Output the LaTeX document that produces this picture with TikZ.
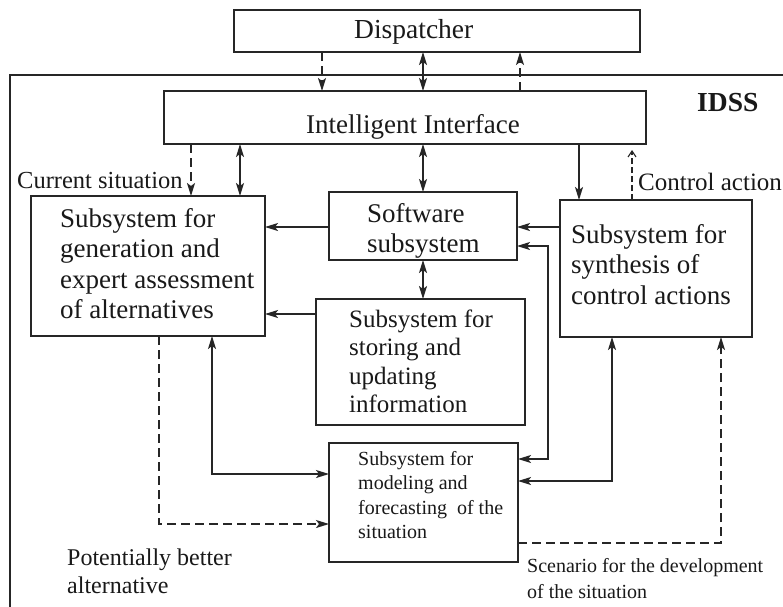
\documentclass[tikz,border=0pt]{standalone}
\usepackage{fontspec}
\setmainfont{Liberation Serif}
\usetikzlibrary{arrows.meta}
% left-aligned block of lines whose baseline is the first line's baseline
\newcommand\txtlines[1]{\begin{tabular}[t]{@{}l@{}}#1\end{tabular}}

\begin{document}
\begin{tikzpicture}[x=1pt,y=-1pt,
  >={Stealth[length=13pt,width=8pt,inset=3pt]},
  ink/.style={draw=black!85, line width=1.6pt},
  box/.style={ink, rectangle, anchor=north west, inner sep=0pt, outer sep=0pt},
  conn/.style={ink},
  dsh/.style={ink, dash pattern=on 9pt off 5pt},
  txt/.style={inner sep=0pt, anchor=base west, text=black!90},
  big/.style={txt, font=\fontsize{27}{30.5}\selectfont},
  mid/.style={txt, font=\fontsize{24.5}{28}\selectfont},
  small/.style={txt, font=\fontsize{20}{24.5}\selectfont}
]
\useasboundingbox (0,0) rectangle (783,606);
\fill[white] (0,0) rectangle (783,606);

% IDSS frame
\draw[ink] (10,612) -- (10,75) -- (790,75);
\node[txt, font=\fontsize{27.5}{31}\selectfont\bfseries] (idss) at (697,111) {IDSS};

% blocks
\node[box, minimum width=406pt, minimum height=42pt]  (disp)  at (234,10)  {};
\node[box, minimum width=482pt, minimum height=53pt]  (intf)  at (164,91)  {};
\node[box, minimum width=234pt, minimum height=140pt] (gen)   at (31,196)  {};
\node[box, minimum width=188pt, minimum height=68pt]  (soft)  at (329,192) {};
\node[box, minimum width=209pt, minimum height=126pt] (stor)  at (316,299) {};
\node[box, minimum width=189pt, minimum height=119pt] (model) at (329,443) {};
\node[box, minimum width=192pt, minimum height=137pt] (synth) at (560,200) {};

% block texts
\node[txt, font=\fontsize{27.5}{31}\selectfont] (disp-t) at (354,38) {Dispatcher};
\node[big] (intf-t) at (306,133) {Intelligent Interface};
\node[big] (gen-t) at (60,227)
  {\txtlines{Subsystem for\\generation and\\expert assessment\\of alternatives}};
\node[big] (soft-t) at (367,222) {\txtlines{Software\\subsystem}};
\node[txt, font=\fontsize{25}{28.5}\selectfont] (stor-t) at (349,327)
  {\txtlines{Subsystem for\\storing and\\updating\\information}};
\node[small] (model-t) at (358,465)
  {\txtlines{Subsystem for\\modeling and\\forecasting\ \ of the\\situation}};
\node[big] (synth-t) at (571,243)
  {\txtlines{Subsystem for\\synthesis of\\control actions}};

% free labels
\node[mid] (cur) at (17,188) {Current situation};
\node[txt, font=\fontsize{25}{28}\selectfont] (ctl) at (638,190) {Control action};
\node[txt, font=\fontsize{24}{28}\selectfont] (pot) at (67,565)
  {\txtlines{Potentially better\\alternative}};
\node[txt, font=\fontsize{20}{26}\selectfont] (scen) at (527,572)
  {\txtlines{Scenario for the development\\of the situation}};

% dispatcher <-> interface
\draw[dsh,->]  (disp.south -| 322,0) -- (intf.north -| 322,0);
\draw[conn,<->] (disp.south -| 423,0) -- (intf.north -| 423,0);
\draw[dsh,->]  (intf.north -| 520,0) -- (disp.south -| 520,0);

% interface -> subsystems
\draw[dsh,->]  (intf.south -| 191,0) -- (gen.north -| 191,0);
\draw[conn,<->] (intf.south -| 240,0) -- (gen.north -| 240,0);
\draw[conn,<->] (intf.south -| 423,0) -- (soft.north -| 423,0);
\draw[conn,->] (intf.south -| 579,0) -- (synth.north -| 579,0);
\draw[ink, line width=1.1pt, dash pattern=on 6pt off 3pt,
      -{Straight Barb[length=6pt,width=8pt]}, shorten >=6pt]
  (synth.north -| 632,0) -- (intf.south -| 632,0);

% middle column
\draw[conn,->]  (soft.west |- 0,227) -- (gen.east |- 0,227);
\draw[conn,->]  (stor.west |- 0,314) -- (gen.east |- 0,314);
\draw[conn,<->] (soft.south -| 423,0) -- (stor.north -| 423,0);
\draw[conn,->]  (synth.west |- 0,227) -- (soft.east |- 0,227);
\draw[conn,<->] (soft.east |- 0,246) -| (548,350) |- (model.east |- 0,459);

% modeling links
\draw[conn,<->] (synth.south -| 612,0) |- (model.east |- 0,481);
\draw[dsh,->]   (model.east |- 0,543) -| (synth.south -| 721,0);
\draw[conn,<->] (gen.south -| 212,0) |- (model.west |- 0,474);
\draw[dsh,->]   (gen.south -| 159,0) |- (model.west |- 0,524);
\end{tikzpicture}
\end{document}
